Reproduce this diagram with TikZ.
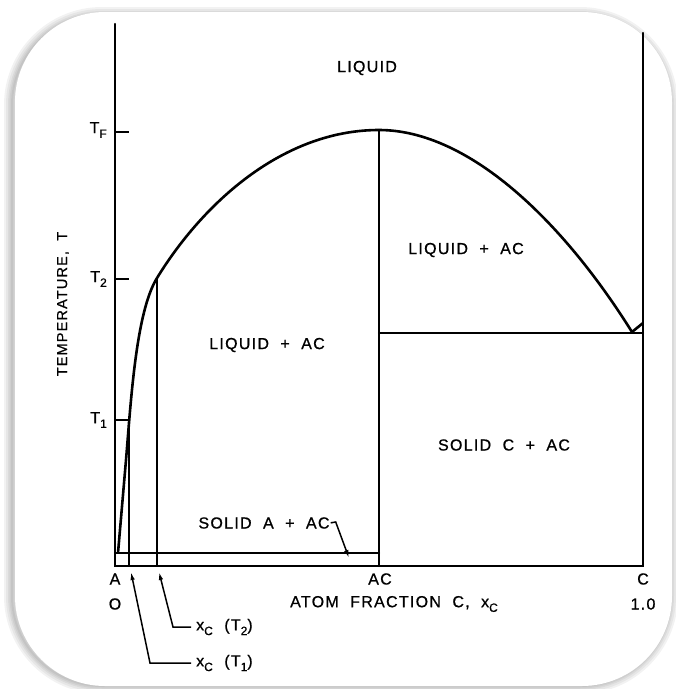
\documentclass[tikz,border=0pt]{standalone}
\usepackage{fontspec}
\setmainfont{Liberation Sans}[LetterSpace=8,WordSpace=2,FakeBold=0.8]
\usepackage{tikz}
\usetikzlibrary{arrows.meta}
\newcommand{\lowsub}[1]{\raisebox{-0.55ex}{\fontsize{12}{13}\selectfont #1}}

\begin{document}
\begin{tikzpicture}[x=1pt,y=-1pt]
        \tikzset{FrameStyle/.style={rounded corners=90pt}}
        \tikzset{AxisStyle/.style={line width=2.4pt, line cap=round}}
        \tikzset{CurveStyle/.style={line width=2.6pt, line join=round}}
        \tikzset{ThinStyle/.style={line width=1.3pt}}
        \tikzset{LeaderStyle/.style={line width=1.5pt, -{Latex[length=8pt,width=4.5pt]}}}
        \tikzset{LabelStyle/.style={font=\fontsize{16}{19}\selectfont, inner sep=0pt}}
        \useasboundingbox (0,0) rectangle (676,689);
        \foreach \w in {16,12,8,5,2}
          \draw[FrameStyle, line width=\w pt, black, opacity=0.05] (12,15) rectangle (670,686);
        \fill[FrameStyle, white] (15,12) rectangle (672,686);
        \coordinate (O) at (115,566);
        \coordinate (Top) at (115,24);
        \coordinate (C) at (643,566);
        \coordinate (CTop) at (643,33);
        \coordinate (AC) at (379,566);
        \coordinate (ACmax) at (379,130);
        \coordinate (A1) at (115,553);
        \coordinate (AC1) at (379,553);
        \coordinate (EuL) at (379,333);
        \coordinate (EuR) at (643,333);
        \coordinate (Eu) at (632,332);
        \coordinate (CUp) at (643,323);
        \coordinate (Start) at (118,553);
        \coordinate (P1) at (129,420);
        \coordinate (P2) at (157,278);
        \draw[AxisStyle] (Top) -- (O) -- (C) -- (CTop);
        \draw[AxisStyle] (A1) -- (AC1);
        \draw[AxisStyle] (ACmax) -- (AC);
        \draw[AxisStyle] (EuL) -- (EuR);
        \draw[CurveStyle] (Start) -- (126,460) .. controls (131,400) and (136,312) .. (P2)
          .. controls (204,201.5) and (284,130) .. (ACmax)
          .. controls (469,130) and (563,221.5) .. (Eu) -- (CUp);
        \draw[ThinStyle] (P1) -- (P1 |- O);
        \draw[ThinStyle] (P2) -- (P2 |- O);
        \draw[ThinStyle] (115,132) -- ++(14,0);
        \draw[ThinStyle] (115,279) -- ++(14,0);
        \draw[ThinStyle] (115,420) -- (P1);
        \node[LabelStyle, anchor=east] (TF) at (107,130) {T\lowsub{F}};
        \node[LabelStyle, anchor=east] (T2) at (107,279) {T\lowsub{2}};
        \node[LabelStyle, anchor=east] (T1) at (107,420) {T\lowsub{1}};
        \node[LabelStyle, font=\fontsize{14.5}{17}\selectfont, rotate=90] (Temp) at (63,304) {TEMPERATURE, T};
        \node[LabelStyle] (Liq) at (367,68) {LIQUID};
        \node[LabelStyle] (LiqR) at (466,250) {LIQUID + AC};
        \node[LabelStyle] (LiqL) at (267,345) {LIQUID + AC};
        \node[LabelStyle] (SolC) at (504,445) {SOLID C + AC};
        \node[LabelStyle] (SolA) at (264,523) {SOLID A + AC};
        \node[LabelStyle] (LabA) at (115,579) {A};
        \node[LabelStyle] (LabO) at (115,604) {O};
        \node[LabelStyle] (LabAC) at (380,579) {AC};
        \node[LabelStyle] (LabC) at (643,579) {C};
        \node[LabelStyle] (LabOne) at (643,604) {1.0};
        \node[LabelStyle] (Frac) at (394,604) {ATOM FRACTION C, x\lowsub{C}};
        \node[LabelStyle, anchor=west] (XT2) at (196,627) {x\lowsub{C} (T\lowsub{2})};
        \node[LabelStyle, anchor=west] (XT1) at (196,663) {x\lowsub{C} (T\lowsub{1})};
        \coordinate (Tip1) at (131,572);
        \coordinate (Bend1) at (150,663);
        \coordinate (Tip2) at (159,572);
        \coordinate (Bend2) at (173,627);
        \coordinate (Ptr) at (349,558);
        \draw[LeaderStyle, shorten <=5pt] (XT1.west) -- (Bend1) -- (Tip1);
        \draw[LeaderStyle, shorten <=5pt] (XT2.west) -- (Bend2) -- (Tip2);
        \draw[LeaderStyle, shorten <=1pt] (SolA.east) -- ++(6,-1) -- (Ptr);
    \end{tikzpicture}
\end{document}
